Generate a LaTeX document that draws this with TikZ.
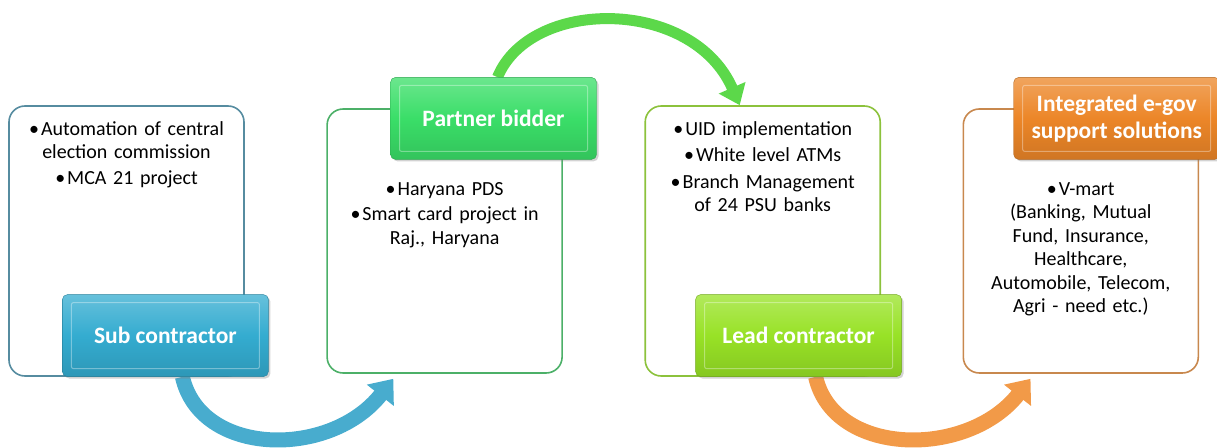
\documentclass[tikz,border=0pt]{standalone}
\usepackage{fontspec}
\setmainfont{Carlito}
\usepackage{tikz}
\usetikzlibrary{calc,positioning,chains,arrows.meta,shadows,backgrounds}

\definecolor{subblue}{RGB}{52,172,208}
\definecolor{partnergreen}{RGB}{58,222,104}
\definecolor{leadlime}{RGB}{152,226,38}
\definecolor{egovorange}{RGB}{236,134,40}
\definecolor{subedge}{RGB}{86,140,160}
\definecolor{partneredge}{RGB}{76,176,104}
\definecolor{leadedge}{RGB}{140,194,60}
\definecolor{egovedge}{RGB}{200,136,78}
\definecolor{flowblue}{RGB}{72,172,206}
\definecolor{flowgreen}{RGB}{92,216,74}
\definecolor{floworange}{RGB}{242,154,72}

\newcommand{\pbul}{\textbullet\hspace{2pt}}

\tikzset{
    itembox/.style={
        rectangle,
        rounded corners=16pt,
        line width=1.6pt,
        fill=white,
        minimum width=235pt,
        minimum height=270pt,
        on chain
    },
    tagbox/.style={
        rectangle,
        rounded corners=5pt,
        top color=#1!75!white,
        bottom color=#1!88!black,
        middle color=#1,
        draw=#1!75!black, thin,
        minimum width=206pt,
        minimum height=82pt,
        text=white,
        align=center,
        font=\fontsize{23.5}{27}\selectfont\bfseries,
        drop shadow={opacity=.35, shadow xshift=2pt, shadow yshift=-2pt},
        path picture={
            \draw[white, opacity=.35, line width=1pt, rounded corners=2pt]
                ([shift={(9pt,-8pt)}]path picture bounding box.north west)
                rectangle ([shift={(-9pt,8pt)}]path picture bounding box.south east);
        }
    },
    itemtext/.style={
        text width=214pt,
        align=center,
        inner sep=0pt,
        font=\fontsize{20}{23.5}\selectfont
    },
    wideflow/.style={
        draw=#1,
        line width=15pt,
        -{Triangle[length=21pt,width=33pt]}
    },
    thinflow/.style={
        draw=#1,
        line width=11pt,
        -{Triangle[length=19pt,width=28pt]}
    }
}

\begin{document}
\begin{tikzpicture}[x=1pt, y=1pt, node distance=81.5pt, start chain=going right]
    \useasboundingbox (0,0) rectangle (1217,447);

    \node[itembox, draw=subedge] (subbox) at (126.5,206) {};
    \node[itembox, draw=partneredge, minimum height=264pt] (partnerbox) {};
    \node[itembox, draw=leadedge] (leadbox) {};
    \node[itembox, draw=egovedge, minimum height=264pt] (egovbox) {};

    \node[tagbox=subblue, anchor=south west] (sublabel)
        at ([xshift=54pt]subbox.south west) {Sub contractor};
    \node[tagbox=partnergreen, anchor=north west] (partnerlabel)
        at ([shift={(64pt,31pt)}]partnerbox.north west) {Partner bidder};
    \node[tagbox=leadlime, anchor=south west] (leadlabel)
        at ([xshift=51pt]leadbox.south west) {Lead contractor};
    \node[tagbox=egovorange, anchor=north west] (egovlabel)
        at ([shift={(51pt,31pt)}]egovbox.north west) {Integrated e-gov\\support solutions};

    \node[itemtext, below=16pt of subbox.north] (subtext)
        {\pbul Automation of central\\ election commission\\[2pt] \pbul MCA 21 project};
    \node[itemtext, below=74pt of partnerbox.north] (partnertext)
        {\pbul Haryana PDS\\[2pt] \pbul Smart card project in\\ Raj., Haryana};
    \node[itemtext, below=16pt of leadbox.north] (leadtext)
        {\pbul UID implementation\\[3pt] \pbul White level ATMs\\[3pt] \pbul Branch Management\\ of 24 PSU banks};
    \node[itemtext, below=74pt of egovbox.north] (egovtext)
        {\pbul V-mart\\ (Banking, Mutual\\ Fund, Insurance,\\ Healthcare,\\ Automobile, Telecom,\\ Agri - need etc.)};

    \begin{scope}[on background layer]
        \draw[wideflow=flowblue] ([xshift=17pt]sublabel.south)
            .. controls +(18,-80) and +(-63,-80) .. ([shift={(67pt,-5pt)}]partnerbox.south west);
        \draw[thinflow=flowgreen] ([xshift=4pt]partnerlabel.north)
            .. controls +(33,80) and +(-47,108) .. ([xshift=-23pt]leadbox.north);
        \draw[wideflow=floworange] ([xshift=17pt]leadlabel.south)
            .. controls +(18,-80) and +(-63,-80) .. ([shift={(68pt,-5pt)}]egovbox.south west);
    \end{scope}
\end{tikzpicture}
\end{document}
